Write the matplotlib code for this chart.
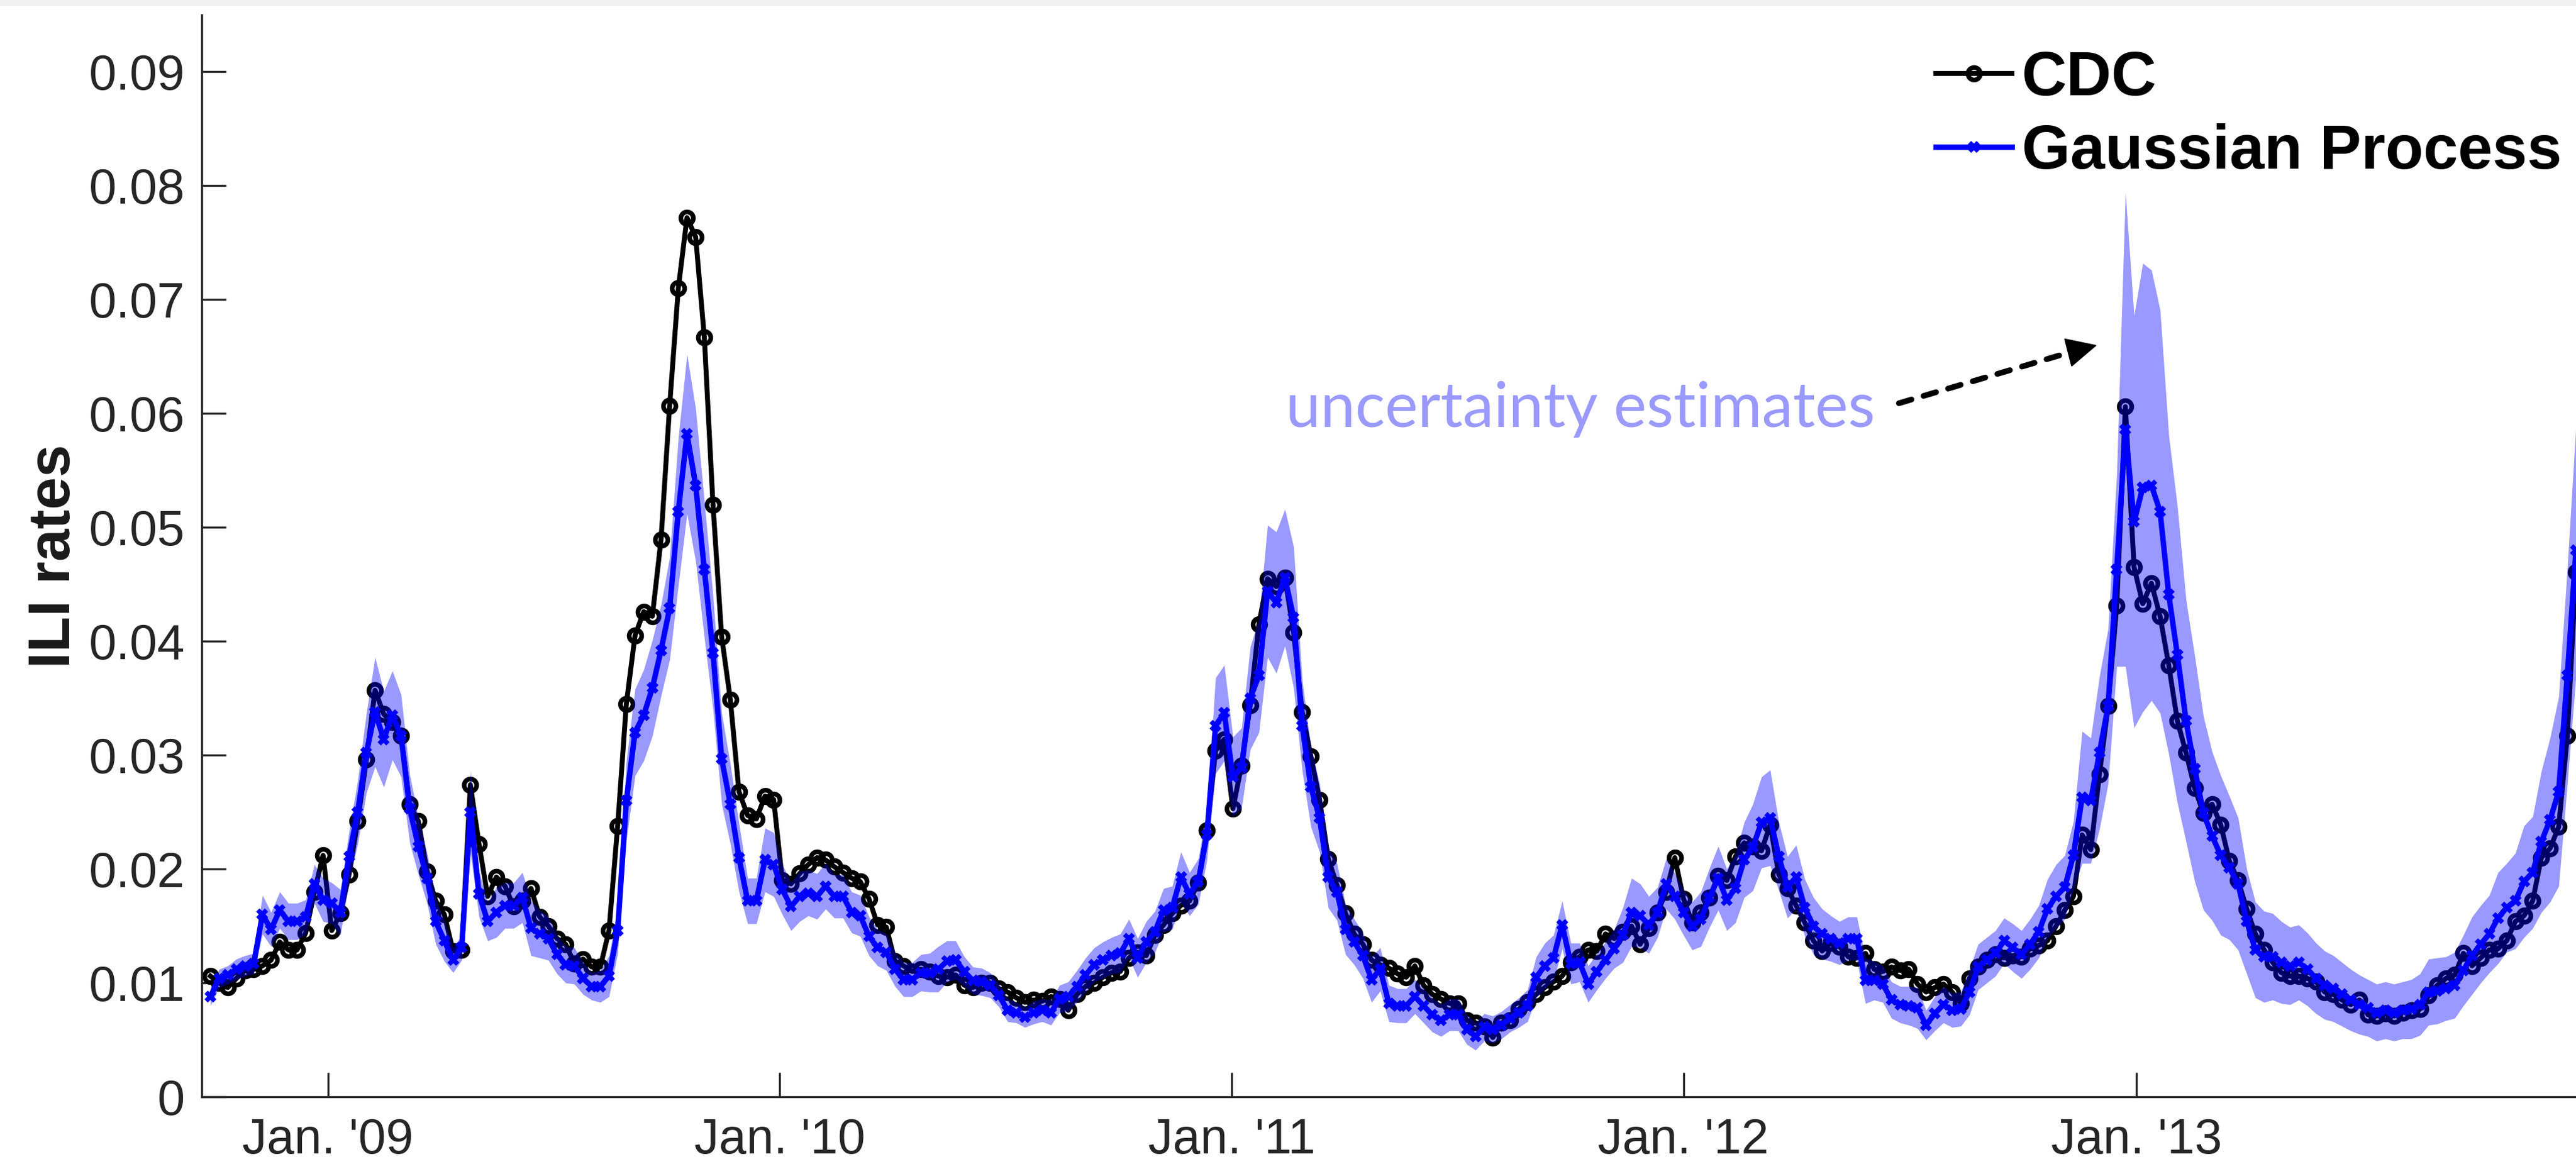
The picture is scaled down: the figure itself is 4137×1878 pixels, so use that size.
import numpy as np
import pandas as pd
import matplotlib
matplotlib.use("Agg")
import matplotlib.pyplot as plt

# weekly ILI rates, starting week of 2008-09-28
cdc = [0.0106, 0.0100, 0.0096, 0.0104, 0.0111, 0.0112, 0.0115, 0.0120, 0.0136, 0.0129,
       0.0129, 0.0144, 0.0180, 0.0212, 0.0146, 0.0161, 0.0195, 0.0242, 0.0296, 0.0357,
       0.0336, 0.0329, 0.0317, 0.0257, 0.0242, 0.0198, 0.0172, 0.0160, 0.0128, 0.0129,
       0.0274, 0.0222, 0.0176, 0.0193, 0.0185, 0.0167, 0.0172, 0.0183, 0.0158, 0.0150,
       0.0139, 0.0134, 0.0117, 0.0121, 0.0114, 0.0114, 0.0146, 0.0238, 0.0345, 0.0405,
       0.0426, 0.0422, 0.0489, 0.0607, 0.0710, 0.0772, 0.0755, 0.0667, 0.0520, 0.0404,
       0.0349, 0.0268, 0.0247, 0.0244, 0.0264, 0.0261, 0.0190, 0.0187, 0.0196, 0.0204,
       0.0210, 0.0208, 0.0202, 0.0197, 0.0192, 0.0189, 0.0174, 0.0151, 0.0149, 0.0119,
       0.0115, 0.0110, 0.0112, 0.0110, 0.0106, 0.0105, 0.0107, 0.0098, 0.0096, 0.0100,
       0.0100, 0.0095, 0.0092, 0.0087, 0.0083, 0.0085, 0.0084, 0.0088, 0.0086, 0.0076,
       0.0090, 0.0097, 0.0100, 0.0105, 0.0109, 0.0110, 0.0122, 0.0127, 0.0124, 0.0142,
       0.0151, 0.0161, 0.0168, 0.0172, 0.0188, 0.0234, 0.0304, 0.0314, 0.0253, 0.0291,
       0.0344, 0.0415, 0.0455, 0.0448, 0.0456, 0.0408, 0.0338, 0.0299, 0.0261, 0.0209,
       0.0186, 0.0161, 0.0143, 0.0134, 0.0120, 0.0116, 0.0113, 0.0108, 0.0105, 0.0115,
       0.0098, 0.0090, 0.0086, 0.0082, 0.0082, 0.0067, 0.0065, 0.0062, 0.0052, 0.0065,
       0.0067, 0.0077, 0.0083, 0.0090, 0.0096, 0.0101, 0.0106, 0.0118, 0.0123, 0.0129,
       0.0128, 0.0143, 0.0139, 0.0145, 0.0150, 0.0134, 0.0148, 0.0162, 0.0180, 0.0210,
       0.0174, 0.0153, 0.0162, 0.0175, 0.0194, 0.0190, 0.0211, 0.0223, 0.0220, 0.0216,
       0.0239, 0.0195, 0.0183, 0.0168, 0.0153, 0.0137, 0.0128, 0.0135, 0.0132, 0.0123,
       0.0122, 0.0126, 0.0112, 0.0110, 0.0114, 0.0111, 0.0112, 0.0099, 0.0092, 0.0096,
       0.0099, 0.0092, 0.0082, 0.0104, 0.0114, 0.0120, 0.0125, 0.0122, 0.0124, 0.0123,
       0.0130, 0.0133, 0.0137, 0.0150, 0.0164, 0.0176, 0.0230, 0.0217, 0.0283, 0.0343,
       0.0431, 0.0606, 0.0465, 0.0433, 0.0451, 0.0422, 0.0379, 0.0330, 0.0302, 0.0271,
       0.0249, 0.0257, 0.0239, 0.0207, 0.0190, 0.0165, 0.0143, 0.0129, 0.0118, 0.0109,
       0.0106, 0.0106, 0.0104, 0.0101, 0.0092, 0.0090, 0.0085, 0.0081, 0.0085, 0.0072,
       0.0071, 0.0073, 0.0071, 0.0074, 0.0076, 0.0077, 0.0089, 0.0098, 0.0104, 0.0107,
       0.0126, 0.0115, 0.0122, 0.0129, 0.0130, 0.0137, 0.0154, 0.0159, 0.0172, 0.0210,
       0.0218, 0.0237, 0.0317, 0.0461]

gp = [0.0088, 0.0104, 0.0107, 0.0112, 0.0115, 0.0117, 0.0160, 0.0147, 0.0164, 0.0154,
      0.0154, 0.0158, 0.0187, 0.0173, 0.0170, 0.0162, 0.0211, 0.0250, 0.0302, 0.0338,
      0.0314, 0.0335, 0.0317, 0.0253, 0.0220, 0.0192, 0.0154, 0.0137, 0.0120, 0.0131,
      0.0250, 0.0178, 0.0154, 0.0162, 0.0168, 0.0168, 0.0175, 0.0148, 0.0143, 0.0139,
      0.0125, 0.0116, 0.0115, 0.0104, 0.0097, 0.0097, 0.0106, 0.0146, 0.0260, 0.0320,
      0.0335, 0.0359, 0.0392, 0.0429, 0.0514, 0.0582, 0.0537, 0.0463, 0.0390, 0.0297,
      0.0257, 0.0210, 0.0172, 0.0172, 0.0208, 0.0204, 0.0182, 0.0167, 0.0176, 0.0179,
      0.0176, 0.0185, 0.0176, 0.0176, 0.0162, 0.0159, 0.0141, 0.0131, 0.0127, 0.0112,
      0.0103, 0.0103, 0.0109, 0.0109, 0.0112, 0.0119, 0.0120, 0.0110, 0.0102, 0.0101,
      0.0098, 0.0089, 0.0076, 0.0074, 0.0070, 0.0074, 0.0076, 0.0074, 0.0086, 0.0088,
      0.0097, 0.0107, 0.0116, 0.0120, 0.0124, 0.0126, 0.0139, 0.0122, 0.0136, 0.0145,
      0.0164, 0.0166, 0.0193, 0.0178, 0.0189, 0.0230, 0.0326, 0.0337, 0.0281, 0.0289,
      0.0350, 0.0370, 0.0444, 0.0434, 0.0456, 0.0421, 0.0326, 0.0272, 0.0245, 0.0193,
      0.0180, 0.0147, 0.0136, 0.0124, 0.0103, 0.0112, 0.0082, 0.0080, 0.0080, 0.0088,
      0.0080, 0.0072, 0.0067, 0.0072, 0.0072, 0.0059, 0.0053, 0.0061, 0.0059, 0.0063,
      0.0069, 0.0074, 0.0080, 0.0105, 0.0115, 0.0122, 0.0151, 0.0117, 0.0118, 0.0099,
      0.0110, 0.0120, 0.0130, 0.0142, 0.0162, 0.0159, 0.0151, 0.0162, 0.0187, 0.0176,
      0.0162, 0.0150, 0.0156, 0.0175, 0.0192, 0.0173, 0.0183, 0.0208, 0.0219, 0.0241,
      0.0245, 0.0211, 0.0184, 0.0193, 0.0166, 0.0150, 0.0143, 0.0139, 0.0135, 0.0139,
      0.0139, 0.0102, 0.0102, 0.0099, 0.0085, 0.0081, 0.0080, 0.0078, 0.0063, 0.0073,
      0.0081, 0.0076, 0.0077, 0.0092, 0.0114, 0.0120, 0.0126, 0.0137, 0.0131, 0.0125,
      0.0134, 0.0145, 0.0165, 0.0176, 0.0184, 0.0212, 0.0263, 0.0260, 0.0302, 0.0343,
      0.0463, 0.0586, 0.0505, 0.0535, 0.0537, 0.0514, 0.0441, 0.0388, 0.0330, 0.0288,
      0.0249, 0.0229, 0.0212, 0.0201, 0.0187, 0.0154, 0.0129, 0.0123, 0.0123, 0.0118,
      0.0115, 0.0118, 0.0112, 0.0104, 0.0098, 0.0095, 0.0090, 0.0085, 0.0081, 0.0078,
      0.0074, 0.0076, 0.0074, 0.0076, 0.0077, 0.0081, 0.0092, 0.0093, 0.0095, 0.0098,
      0.0111, 0.0124, 0.0134, 0.0143, 0.0157, 0.0166, 0.0172, 0.0189, 0.0197, 0.0224,
      0.0243, 0.0268, 0.0370, 0.0480]

# half-width of the GP uncertainty band
gp_hw = [0.0008, 0.0008, 0.0008, 0.0009, 0.0009, 0.0009, 0.0017, 0.0015, 0.0016, 0.0016,
         0.0016, 0.0015, 0.0017, 0.0019, 0.0018, 0.0020, 0.0022, 0.0028, 0.0035, 0.0048,
         0.0042, 0.0039, 0.0036, 0.0030, 0.0025, 0.0022, 0.0020, 0.0018, 0.0011, 0.0011,
         0.0036, 0.0020, 0.0017, 0.0022, 0.0020, 0.0020, 0.0022, 0.0024, 0.0021, 0.0019,
         0.0017, 0.0016, 0.0016, 0.0014, 0.0012, 0.0014, 0.0018, 0.0020, 0.0035, 0.0038,
         0.0040, 0.0042, 0.0040, 0.0045, 0.0065, 0.0070, 0.0067, 0.0060, 0.0050, 0.0040,
         0.0035, 0.0030, 0.0020, 0.0020, 0.0028, 0.0028, 0.0022, 0.0021, 0.0022, 0.0020,
         0.0020, 0.0020, 0.0019, 0.0019, 0.0018, 0.0018, 0.0017, 0.0016, 0.0016, 0.0015,
         0.0015, 0.0015, 0.0016, 0.0017, 0.0020, 0.0018, 0.0017, 0.0013, 0.0012, 0.0012,
         0.0011, 0.0010, 0.0010, 0.0009, 0.0009, 0.0010, 0.0010, 0.0011, 0.0012, 0.0013,
         0.0014, 0.0015, 0.0015, 0.0016, 0.0016, 0.0017, 0.0017, 0.0017, 0.0018, 0.0018,
         0.0019, 0.0019, 0.0022, 0.0019, 0.0020, 0.0022, 0.0042, 0.0042, 0.0035, 0.0035,
         0.0045, 0.0050, 0.0058, 0.0062, 0.0060, 0.0062, 0.0040, 0.0035, 0.0030, 0.0027,
         0.0025, 0.0022, 0.0020, 0.0020, 0.0020, 0.0019, 0.0016, 0.0015, 0.0015, 0.0015,
         0.0015, 0.0015, 0.0014, 0.0014, 0.0014, 0.0013, 0.0012, 0.0012, 0.0012, 0.0012,
         0.0012, 0.0013, 0.0014, 0.0018, 0.0020, 0.0020, 0.0021, 0.0018, 0.0017, 0.0016,
         0.0016, 0.0016, 0.0017, 0.0024, 0.0030, 0.0028, 0.0025, 0.0022, 0.0022, 0.0020,
         0.0020, 0.0021, 0.0024, 0.0026, 0.0028, 0.0027, 0.0030, 0.0033, 0.0038, 0.0040,
         0.0042, 0.0030, 0.0027, 0.0028, 0.0025, 0.0025, 0.0022, 0.0020, 0.0019, 0.0019,
         0.0019, 0.0020, 0.0017, 0.0016, 0.0016, 0.0016, 0.0017, 0.0018, 0.0013, 0.0015,
         0.0016, 0.0015, 0.0015, 0.0020, 0.0020, 0.0020, 0.0020, 0.0020, 0.0021, 0.0021,
         0.0022, 0.0023, 0.0026, 0.0028, 0.0028, 0.0030, 0.0058, 0.0055, 0.0067, 0.0068,
         0.0085, 0.0208, 0.0181, 0.0197, 0.0189, 0.0177, 0.0140, 0.0130, 0.0106, 0.0099,
         0.0085, 0.0074, 0.0070, 0.0063, 0.0058, 0.0046, 0.0042, 0.0040, 0.0038, 0.0036,
         0.0034, 0.0033, 0.0032, 0.0031, 0.0030, 0.0029, 0.0028, 0.0027, 0.0026, 0.0025,
         0.0025, 0.0025, 0.0025, 0.0025, 0.0026, 0.0027, 0.0029, 0.0029, 0.0028, 0.0029,
         0.0031, 0.0034, 0.0034, 0.0034, 0.0040, 0.0039, 0.0042, 0.0049, 0.0049, 0.0062,
         0.0072, 0.0083, 0.0095, 0.0110]

years = [2009, 2010, 2011, 2012, 2013]
year_labels = ["Jan. '09", "Jan. '10", "Jan. '11", "Jan. '12", "Jan. '13"]
ytick_vals = [0, 0.01, 0.02, 0.03, 0.04, 0.05, 0.06, 0.07, 0.08, 0.09]
ytick_labels = ["0", "0.01", "0.02", "0.03", "0.04", "0.05", "0.06", "0.07", "0.08", "0.09"]

dates = pd.date_range("2008-09-28", periods=len(cdc), freq="7D")
gp = np.array(gp)
gp_hw = np.array(gp_hw)

W, H, DPI = 4137, 1878, 300
fig = plt.figure(figsize=(W / DPI, H / DPI), dpi=DPI)
ax = fig.add_axes([324 / W, 1 - 1762 / H, 1 - 324 / W, (1762 - 24) / H])

ax.plot(dates, cdc, color="black", lw=1.9, marker="o", ms=4.8, mew=1.8,
        mfc="none", label="CDC", zorder=2)
ax.plot(dates, gp, color="blue", lw=2.1, marker="x", ms=3.4, mew=1.8,
        label="Gaussian Process", zorder=3)
ax.fill_between(dates, gp - gp_hw, gp + gp_hw, color="blue", alpha=0.4,
                lw=0, zorder=4)

ax.set_xlim(pd.Timestamp("2008-09-21"), pd.Timestamp("2013-12-22"))
ax.set_ylim(0, 0.095)

ax.set_xticks([pd.Timestamp(f"{y}-01-01") for y in years])
ax.set_xticklabels(year_labels)
ax.set_yticks(ytick_vals)
ax.set_yticklabels(ytick_labels)

for s in ["top", "right"]:
    ax.spines[s].set_visible(False)
for s in ["left", "bottom"]:
    ax.spines[s].set_linewidth(0.8)
    ax.spines[s].set_color("#262626")

ax.tick_params(direction="in", length=9.4, width=0.8, color="#262626",
               labelcolor="#262626", labelsize=19)
ax.tick_params(axis="x", pad=8)
ax.tick_params(axis="y", pad=6.5)
for lab in ax.get_xticklabels() + ax.get_yticklabels():
    lab.set_family("Liberation Sans")

fig.text(88 / W, 1 - 893 / H, "ILI rates", rotation=90, ha="center", va="center",
         family="Liberation Sans", fontweight="bold", fontsize=22.5, color="#1a1a1a")

ax.legend(loc="upper left", bbox_to_anchor=(3109 / W, 1 - 80 / H),
          bbox_transform=fig.transFigure, frameon=False, borderpad=0,
          borderaxespad=0, handlelength=1.22, handletextpad=0.16,
          labelspacing=0.24,
          prop={"family": "Liberation Sans", "weight": "bold", "size": 24})

ax.text(pd.Timestamp("2011-02-14"), 0.0588, "uncertainty estimates",
        family="Lato", fontsize=24, color=(0.6, 0.6, 1.0), ha="left", va="baseline")

# dashed arrow: dashed shaft plus a solid head
arrow_start = (pd.Timestamp("2012-06-23"), 0.0609)
arrow_mid = (pd.Timestamp("2012-11-12"), 0.0655)
arrow_end = (pd.Timestamp("2012-11-30"), 0.0660)
ax.annotate("", xy=arrow_mid, xytext=arrow_start,
            arrowprops=dict(arrowstyle="-", color="black", lw=2.2,
                            linestyle=(0, (2.3, 2.2)), shrinkA=0, shrinkB=0))
ax.annotate("", xy=arrow_end, xytext=arrow_mid,
            arrowprops=dict(arrowstyle="-|>,head_length=0.45,head_width=0.22",
                            color="black", lw=0.5, mutation_scale=24,
                            shrinkA=0, shrinkB=0))

fig.add_artist(plt.Rectangle((0, 1 - 9 / H), 1, 9 / H, transform=fig.transFigure,
                             color="#f0f0f0", lw=0))

fig.savefig("out.png", dpi=DPI)
